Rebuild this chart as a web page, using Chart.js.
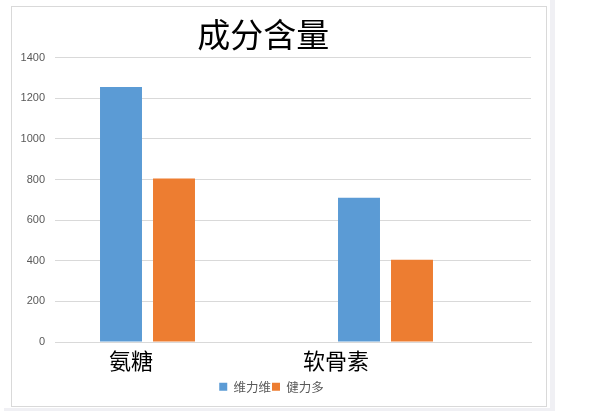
<!DOCTYPE html>
<html>
<head>
<meta charset="utf-8">
<script src="https://cdn.jsdelivr.net/npm/chart.js@4"></script>
<style>
    html, body { margin: 0; padding: 0; background: #fff; }
    body { width: 591px; height: 414px; position: relative; overflow: hidden; }
    .strip-r { position: absolute; left: 550px; top: 0; width: 5px; height: 411px; background: #f0f0f4; }
    .strip-b { position: absolute; left: 4px; top: 408px; width: 551px; height: 3px; background: #f0f0f4; }
    .frame { position: absolute; left: 11px; top: 6px; width: 534px; height: 399px; border: 1px solid #d9d9d9; background: #fff; }
    canvas { display: block; }
</style>
</head>
<body>
<div class="strip-r"></div>
<div class="strip-b"></div>
<div class="frame"><canvas id="chart" width="534" height="399"></canvas></div>
<script>
// 数据
const title = '成分含量';
const categories = ['氨糖', '软骨素'];
const seriesNames = ['维力维', '健力多'];
const weiliwei = [1255, 710];
const jianliduo = [805, 405];
const yTicks = [0, 200, 400, 600, 800, 1000, 1200, 1400];

const blue = '#5b9bd5';
const orange = '#ed7d31';

const ctx = document.getElementById('chart').getContext('2d');

const chart = new Chart(ctx, {
    type: 'bar',
    data: {
        labels: categories,
        datasets: [
            { label: seriesNames[0], data: weiliwei, backgroundColor: blue },
            { label: seriesNames[1], data: jianliduo, backgroundColor: orange },
            // 第三个系列是空的, 原图里的柱子因此偏左
            { label: '', data: [null, null], backgroundColor: 'rgba(0,0,0,0)' }
        ]
    },
    options: {
        responsive: false,
        animation: false,
        devicePixelRatio: 1,
        categoryPercentage: 0.668,
        barPercentage: 0.792,
        layout: { padding: { left: 0, right: 15, top: 0, bottom: 3 } },
        plugins: {
            title: {
                display: true,
                text: title + '\u2002',
                color: '#000',
                font: { family: '"Noto Sans CJK SC", sans-serif', size: 33, weight: 'normal' },
                padding: { top: 8, bottom: 3 }
            },
            legend: {
                position: 'bottom',
                labels: {
                    filter: item => item.text !== '',
                    boxWidth: 8,
                    boxHeight: 8,
                    padding: 1,
                    color: '#595959',
                    font: { family: '"Noto Sans CJK SC", sans-serif', size: 12.5 }
                }
            },
            tooltip: { enabled: false }
        },
        scales: {
            x: {
                grid: { display: false, drawTicks: false },
                border: { display: true, color: '#d9d9d9' },
                ticks: {
                    color: '#000',
                    padding: 5.5,
                    labelOffset: -43,
                    maxRotation: 0,
                    font: { family: '"Noto Sans CJK SC", sans-serif', size: 22 },
                    callback: (v, i) => categories[i] + (i === 1 ? '\u3000\u3000\u3000' : '')
                }
            },
            y: {
                min: 0,
                max: 1400,
                afterBuildTicks: s => { s.ticks = yTicks.map(v => ({ value: v })); },
                afterFit: s => { s.width = 43; },
                grid: { color: '#d9d9d9', drawTicks: false },
                border: { display: false },
                ticks: {
                    color: '#595959',
                    padding: 10,
                    font: { family: '"Liberation Sans", sans-serif', size: 11 },
                    callback: v => String(v)
                }
            }
        }
    }
});
</script>
</body>
</html>
